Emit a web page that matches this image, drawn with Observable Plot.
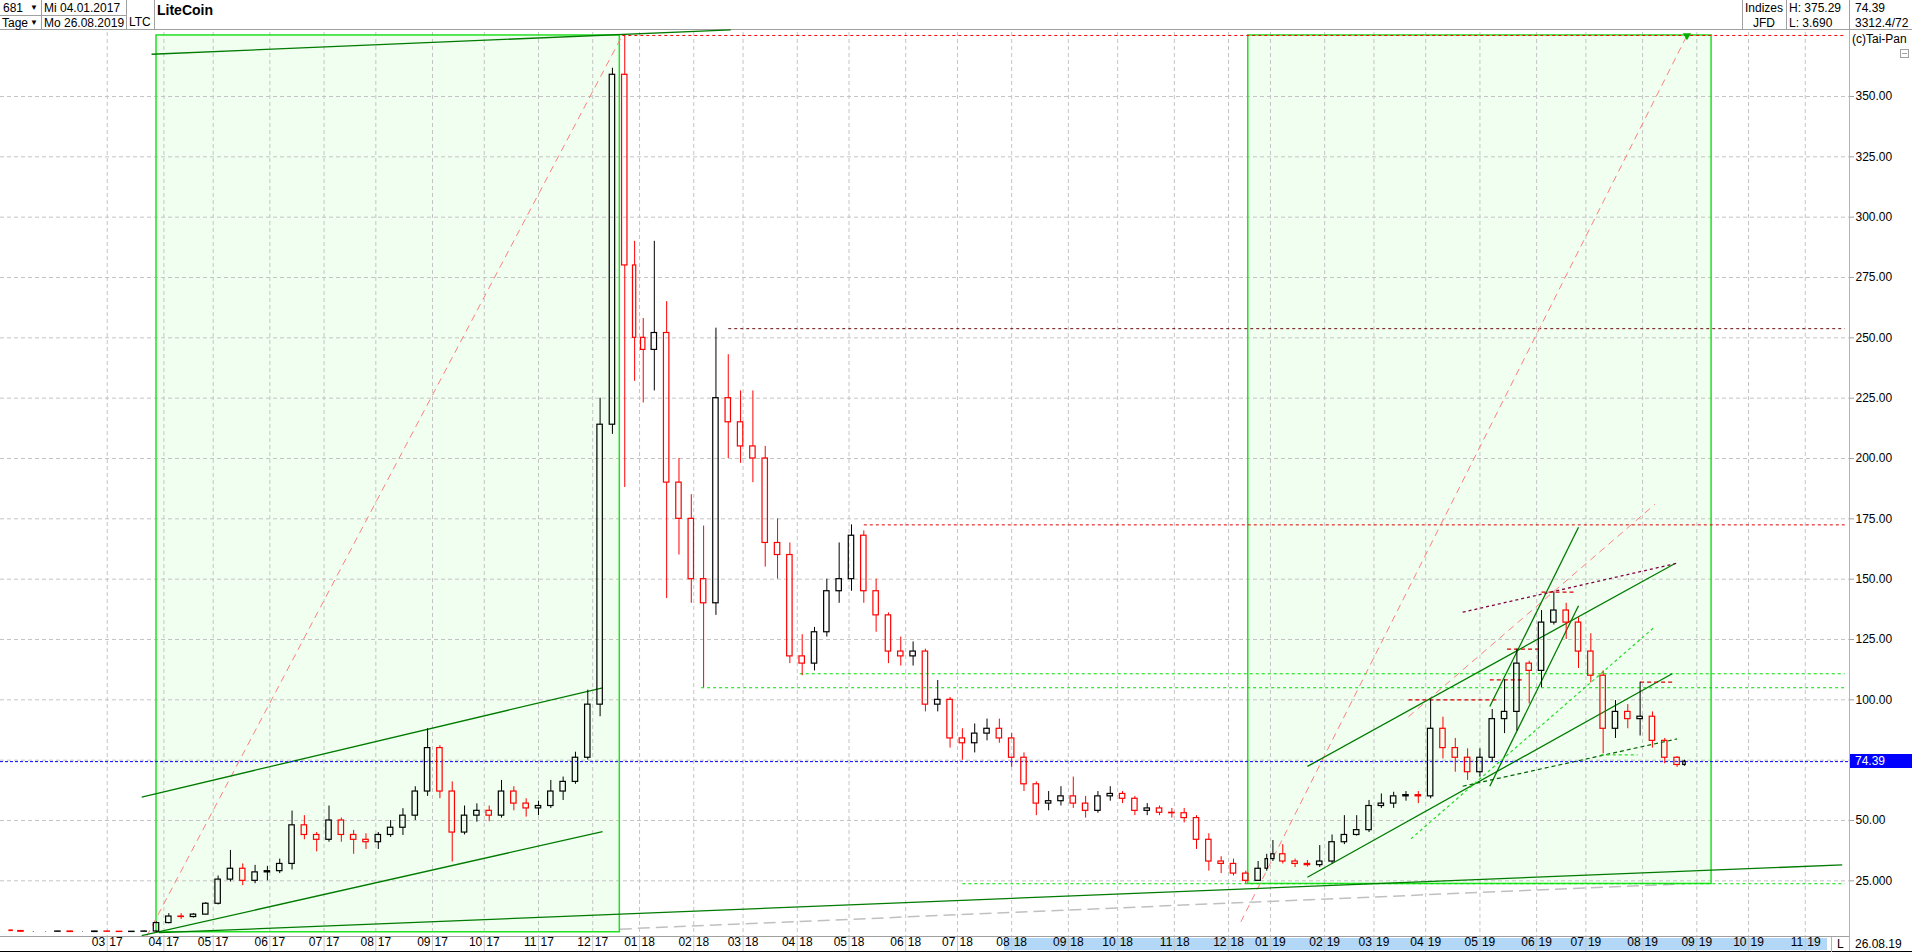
<!DOCTYPE html>
<html><head><meta charset="utf-8">
<script src="https://cdn.jsdelivr.net/npm/d3@7"></script>
<script src="https://cdn.jsdelivr.net/npm/@observablehq/plot@0.6"></script>
<style>
html,body{margin:0;padding:0;background:#fff;width:1912px;height:952px;overflow:hidden;font-family:"Liberation Sans",Arial,sans-serif;color:#000;}
#hdr{position:absolute;left:0;top:0;width:1912px;height:30px;border-bottom:1px solid #a0a0a0;box-sizing:border-box;font-size:12px;}
.t{position:absolute;white-space:nowrap;line-height:14px;}
.vl{position:absolute;width:1px;background:#a0a0a0;}
.hl{position:absolute;height:1px;background:#a0a0a0;}
#band{position:absolute;z-index:0;}
#chart{position:absolute;left:0;top:30px;z-index:1;}
.ov{position:absolute;z-index:2;white-space:nowrap;}
</style></head><body>
<div id="hdr">
  <div class="vl" style="left:41px;top:0;height:30px"></div>
  <div class="vl" style="left:126px;top:0;height:30px"></div>
  <div class="vl" style="left:154px;top:0;height:30px"></div>
  <div class="hl" style="left:0;top:15px;width:126px"></div>
  <div class="t" style="left:3px;top:1px">681</div>
  <div class="t" style="left:30px;top:1px;font-size:8px">&#9660;</div>
  <div class="t" style="left:2px;top:16px">Tage</div>
  <div class="t" style="left:30px;top:16px;font-size:8px">&#9660;</div>
  <div class="t" style="left:44px;top:1px">Mi 04.01.2017</div>
  <div class="t" style="left:44px;top:16px">Mo 26.08.2019</div>
  <div class="t" style="left:129px;top:15px">LTC</div>
  <div class="t" style="left:157px;top:3px;font-size:14px;font-weight:bold">LiteCoin</div>
  <div class="vl" style="left:1742px;top:0;height:30px"></div>
  <div class="vl" style="left:1786px;top:0;height:30px"></div>
  <div class="vl" style="left:1849px;top:0;height:30px"></div>
  <div class="t" style="left:1745px;top:1px">Indizes</div>
  <div class="t" style="left:1753px;top:16px">JFD</div>
  <div class="t" style="left:1789px;top:1px">H: 375.29</div>
  <div class="t" style="left:1789px;top:16px">L: 3.690</div>
  <div class="t" style="left:1855px;top:1px">74.39</div>
  <div class="t" style="left:1855px;top:16px">3312.4/72</div>
</div>
<div id="band"></div>
<div id="chart"></div>
<script>
// ---------- data ----------
const firstBar = "2017-01-04";
const holidays = ["2017-12-25","2017-12-26","2018-01-01","2018-12-24","2018-12-25","2018-12-26","2018-12-31","2019-01-01"];

// weekly candles: [week start, open, high, low, close]
const ohlc2017 = [
 ["2017-01-04",4.4,4.6,4.1,4.2],["2017-01-09",4.2,4.3,3.8,3.9],["2017-01-16",3.9,4.0,3.7,3.9],["2017-01-23",3.9,4.0,3.8,3.9],
 ["2017-01-30",3.9,4.1,3.8,4.0],["2017-02-06",4.0,4.1,3.7,3.8],["2017-02-13",3.8,3.9,3.7,3.8],["2017-02-20",3.8,4.1,3.7,4.0],
 ["2017-02-27",4.0,4.1,3.8,3.9],["2017-03-06",3.9,4.0,3.7,3.8],["2017-03-13",3.8,4.0,3.7,3.9],["2017-03-20",3.9,4.2,3.8,4.0],
 ["2017-03-27",4.0,8.0,3.69,7.5],["2017-04-03",7.5,11.4,7.2,10.2],["2017-04-10",10.2,11.4,9.0,10.0],["2017-04-17",10.0,11.4,9.6,11.0],
 ["2017-04-24",11.0,16.0,10.8,15.5],["2017-05-01",15.5,27.0,15.0,25.5],["2017-05-08",25.5,37.6,24.5,30.0],["2017-05-15",30.0,32.0,23.0,25.0],
 ["2017-05-22",25.0,31.4,23.8,28.5],["2017-05-29",28.5,31.0,25.0,29.0],["2017-06-05",29.0,34.0,28.0,32.0],["2017-06-12",32.0,53.9,29.5,48.0],
 ["2017-06-19",48.0,52.0,42.0,44.0],["2017-06-26",44.0,45.0,37.0,42.0],["2017-07-03",42.0,56.0,41.0,50.0],["2017-07-10",50.0,51.0,41.0,44.0],
 ["2017-07-17",44.0,45.9,36.0,42.0],["2017-07-24",42.0,44.5,38.0,41.0],["2017-07-31",41.0,45.0,38.0,44.0],["2017-08-07",44.0,50.0,43.0,47.0],
 ["2017-08-14",47.0,54.9,43.8,52.0],["2017-08-21",52.0,64.0,50.0,62.0],["2017-08-28",62.0,88.0,60.0,80.0],["2017-09-04",80.0,81.0,59.0,62.0],
 ["2017-09-11",62.0,66.0,32.8,45.0],["2017-09-18",45.0,56.0,44.0,52.0],["2017-09-25",52.0,56.9,49.3,54.0],["2017-10-02",54.0,56.0,49.5,52.0],
 ["2017-10-09",52.0,66.6,51.0,62.0],["2017-10-16",62.0,64.0,54.0,57.0],["2017-10-23",57.0,59.0,51.4,55.0],["2017-10-30",55.0,58.0,52.0,56.0],
 ["2017-11-06",56.0,66.6,55.0,62.0],["2017-11-13",62.0,68.0,58.3,66.0],["2017-11-20",66.0,78.3,65.0,76.0],["2017-11-27",76.0,104.0,75.0,98.0],
 ["2017-12-04",98.0,225.0,93.0,214.0],["2017-12-11",214.0,361.7,210.0,359.0],["2017-12-18",359.0,375.29,188.0,280.0],["2017-12-27",280.0,290.0,232.0,250.0]
];
const ohlc2018 = [
 ["2018-01-02",250,258,223,245],["2018-01-08",245,290,228,252],["2018-01-15",252,265,142,190],["2018-01-22",190,200,160,175],
 ["2018-01-29",175,185,140,150],["2018-02-05",150,172,105,140],["2018-02-12",140,254,135,225],["2018-02-19",225,243,200,215],
 ["2018-02-26",215,228,198,205],["2018-03-05",205,228,190,200],["2018-03-12",200,205,155,165],["2018-03-19",165,175,150,160],
 ["2018-03-26",160,165,115,118],["2018-04-02",118,127,110,115],["2018-04-09",115,130,112,128],["2018-04-16",128,150,126,145],
 ["2018-04-23",145,165,140,150],["2018-04-30",150,172.5,145,168],["2018-05-07",168,170,140,145],["2018-05-14",145,150,128,135],
 ["2018-05-21",135,136,115,120],["2018-05-28",120,126,114,118],["2018-06-04",118,124,114,120],["2018-06-11",120,121,95,98],
 ["2018-06-18",98,108,95,100],["2018-06-25",100,101,80,84],["2018-07-02",84,88,75,82],["2018-07-09",82,90,78,86],
 ["2018-07-16",86,92,83,88],["2018-07-23",88,92,82,84],["2018-07-30",84,86,72,76],["2018-08-06",76,78,62,65],
 ["2018-08-13",65,66,52,57],["2018-08-20",57,62,54,58],["2018-08-27",58,64,56,60],["2018-09-03",60,68,55,57],
 ["2018-09-10",57,60,51,54],["2018-09-17",54,62,53,60],["2018-09-24",60,64,58,61],["2018-10-01",61,62,57,59],
 ["2018-10-08",59,60,52,54],["2018-10-15",54,57,52,55],["2018-10-22",55,56,52,53.2],["2018-10-29",53.2,55,51,53],
 ["2018-11-05",53,55,49,51],["2018-11-12",51,52,38,42],["2018-11-19",42,44.5,29,33],["2018-11-26",33,35,28,32],
 ["2018-12-03",32,34,27,28],["2018-12-10",28,29,23.7,25],["2018-12-17",25,33,24.8,30],["2018-12-27",30,36,29,34]
];
const ohlc2019 = [
 ["2019-01-02",34,41.7,33,36],["2019-01-07",36,40,32,33],["2019-01-14",33,34,30.5,32],["2019-01-21",32,33.4,30.7,31.5],
 ["2019-01-28",31.5,39.6,30.5,33],["2019-02-04",33,44,32,41],["2019-02-11",41,52,40,44],["2019-02-18",44,52,43.5,46],
 ["2019-02-25",46,58.3,45,56],["2019-03-04",56,61,55,57],["2019-03-11",57,61.7,55,60],["2019-03-18",60,62,58,60.5],
 ["2019-03-25",60.5,62,57,60],["2019-04-01",60,100,59,88],["2019-04-08",88,92.8,75.5,80],["2019-04-15",80,84,70,76],
 ["2019-04-22",76,79.7,66.6,70],["2019-04-29",70,79.7,68,76],["2019-05-06",76,96,74,92],["2019-05-13",92,108.3,86,95],
 ["2019-05-20",95,121,87,115],["2019-05-27",115,116,98.3,112],["2019-06-03",112,137,105,132],["2019-06-10",132,144.6,131,137],
 ["2019-06-17",137,140,125,132],["2019-06-24",132,134,113,120],["2019-07-01",120,127.4,107,110],["2019-07-08",110,112,77.6,88],
 ["2019-07-15",88,99.7,84,95],["2019-07-22",95,98,88,92],["2019-07-29",92,107.3,85,93],["2019-08-05",93,95,80,83],
 ["2019-08-12",83,84,73.5,76],["2019-08-19",76,76.5,72,73],["2019-08-26",73,75,72.5,74.39]
];

const lastClose = 74.39;
const yTicks = [25,50,75,100,125,150,175,200,225,250,275,300,325,350];
const monthStarts = ["2017-03-01","2017-04-01","2017-05-01","2017-06-01","2017-07-01","2017-08-01","2017-09-01","2017-10-01","2017-11-01","2017-12-01",
 "2018-01-01","2018-02-01","2018-03-01","2018-04-01","2018-05-01","2018-06-01","2018-07-01","2018-08-01","2018-09-01","2018-10-01","2018-11-01","2018-12-01",
 "2019-01-01","2019-02-01","2019-03-01","2019-04-01","2019-05-01","2019-06-01","2019-07-01","2019-08-01","2019-09-01","2019-10-01","2019-11-01"];
const axisBand = ["2018-07-27","2019-11-14"];

// projection boxes: [start, low, end, high]
const boxes = [["2017-03-29",3.69,"2017-12-18",375.29],["2018-12-13",23.7,"2019-09-10",375.29]];
// solid dark green trend lines: [date1, value1, date2, value2]
const greenLines = [
 ["2017-03-21",59.7,"2017-12-07",105.0],
 ["2017-03-21",2.3,"2017-12-07",45.4],
 ["2017-03-27",367.5,"2018-02-22",377.6],
 ["2017-03-30",3.5,"2019-11-22",31.6],
 ["2019-01-23",72.4,"2019-08-20",156.4],
 ["2019-01-23",26.5,"2019-08-19",110.8],
 ["2019-05-07",97.2,"2019-06-26",171.5],
 ["2019-05-07",64.2,"2019-06-26",139.0]
];
const greenDashedLines = [["2019-04-22",64.2,"2019-08-21",83.8]];
const pinkLines = [["2017-03-23",2.0,"2017-12-19",375.29],["2018-12-10",8.0,"2019-08-27",375.29],["2019-03-21",93.0,"2019-08-08",181.0]];
const lightGreenLines = [["2019-03-22",42.4,"2019-08-08",130.3],["2019-07-09",77.2,"2019-07-30",77.2]];
const maroonLines = [["2019-04-22",136.3,"2019-08-21",156.6]];
const redShortLines = [
 ["2019-03-21",100.0,"2019-05-10",100.0],["2019-05-07",108.3,"2019-05-24",108.3],["2019-05-16",121.0,"2019-06-05",121.0],
 ["2019-06-05",144.6,"2019-06-25",144.6],["2019-07-31",107.3,"2019-08-20",107.3]
];
const greyLines = [["2017-12-18",4.98,"2019-08-26",23.8]];
// horizontal levels extended to the right: [start, value, colour]
const levelEnd = "2019-11-25";
const levels = [["2017-12-19",375.29,"#ff0000"],["2018-02-21",253.8,"#6a1010"],["2018-05-09",172.5,"#e00000"],
 ["2018-04-03",110.8,"#00dd00"],["2018-02-06",105.0,"#00dd00"],["2018-07-04",23.8,"#00dd00"]];
const markers = [["2019-08-27",375.29]];

// ---------- trading-day index (weekdays without holidays) ----------
const hol = new Set(holidays);
const dayIndex = new Map();
(function(){
  let c = 0;
  for (let t = Date.UTC(2016,11,1); t <= Date.UTC(2019,11,31); t += 864e5) {
    const d = new Date(t), s = d.toISOString().slice(0,10), wd = d.getUTCDay();
    dayIndex.set(s, c);
    if (wd !== 0 && wd !== 6 && !hol.has(s)) c++;
  }
})();
const base = dayIndex.get(firstBar);
const tIdx = s => dayIndex.get(s) - base;

const rows = [...ohlc2017, ...ohlc2018, ...ohlc2019];
const candles = rows.map((r, i) => {
  const s = tIdx(r[0]);
  const n = i + 1 < rows.length ? tIdx(rows[i+1][0]) : s + 1;
  const nb = n - s;
  return {xc: (s + n - 1) / 2, hw: Math.max(0.5, 0.22 * nb), o: r[1], h: r[2], l: r[3], c: r[4],
          top: Math.max(r[1], r[4]), bot: Math.min(r[1], r[4]),
          col: r[4] >= r[1] ? "#000000" : "#ff0000"};
});
const seg = (arr, opts) => Plot.link(arr, {x1: d => tIdx(d[0]), y1: d => d[1], x2: d => tIdx(d[2]), y2: d => d[3], ...opts});
const monthIdx = monthStarts.map(tIdx);
const mm = s => s.slice(5,7), yy = s => s.slice(2,4);

const chart = Plot.plot({
  width: 1912, height: 922,
  marginTop: 2, marginRight: 63, marginBottom: 16, marginLeft: 0,
  x: {type: "linear", domain: [-3.3, 746.96], axis: "bottom", ticks: monthIdx, tickSize: 15, tickFormat: () => "", label: null},
  y: {type: "linear", domain: [1.93, 376.52], axis: "right", ticks: yTicks, tickSize: 4, tickPadding: 2,
      tickFormat: v => v === 25 ? "25.000" : v.toFixed(2), label: null},
  color: {type: "identity"},
  style: {fontFamily: '"Liberation Sans", Arial, sans-serif', fontSize: "12px", color: "#000", background: "transparent", overflow: "visible"},
  marks: [
    Plot.rect(boxes, {x1: d => tIdx(d[0]), x2: d => tIdx(d[2]), y1: d => d[1], y2: d => d[3], fill: "#f0fff0"}),
    Plot.ruleY(yTicks, {stroke: "#c4c4c4", strokeDasharray: "4,3"}),
    Plot.ruleX(monthIdx, {stroke: "#c4c4c4", strokeDasharray: "4,3"}),
    Plot.ruleY([1.93], {stroke: "#a0a0a0"}),
    seg(greyLines, {stroke: "#c0c0c0", strokeDasharray: "12,6", strokeWidth: 1.5}),
    Plot.rect(boxes, {x1: d => tIdx(d[0]), x2: d => tIdx(d[2]), y1: d => d[1], y2: d => d[3], fill: "none", stroke: "#22e022", strokeWidth: 1.5}),
    Plot.link(levels, {x1: d => tIdx(d[0]), x2: () => tIdx(levelEnd), y1: d => d[1], y2: d => d[1], stroke: d => d[2], strokeDasharray: "3,3"}),
    seg(pinkLines, {stroke: "#ff7f7f", strokeDasharray: "7,5"}),
    seg(greenLines, {stroke: "#007a00", strokeWidth: 1.3}),
    seg(greenDashedLines, {stroke: "#006400", strokeDasharray: "4,3", strokeWidth: 1.2}),
    seg(lightGreenLines, {stroke: "#22dd22", strokeDasharray: "3,3", strokeWidth: 1.2}),
    seg(maroonLines, {stroke: "#800040", strokeDasharray: "3,3", strokeWidth: 1.3}),
    seg(redShortLines, {stroke: "#dd0000", strokeDasharray: "4,3", strokeWidth: 1.2}),
    Plot.ruleY([lastClose], {stroke: "#0000ff", strokeDasharray: "3,2"}),
    Plot.ruleX(candles, {x: "xc", y1: "h", y2: "top", stroke: "col"}),
    Plot.ruleX(candles, {x: "xc", y1: "bot", y2: "l", stroke: "col"}),
    Plot.rect(candles, {x1: d => d.xc - d.hw, x2: d => d.xc + d.hw, y1: "bot", y2: "top", fill: "none", stroke: "col", strokeWidth: 1.2}),
    Plot.dot(markers, {x: d => tIdx(d[0]), y: d => d[1], symbol: "triangle", rotate: 180, r: 3, fill: "#00b000", stroke: "none"}),
    Plot.text(monthStarts, {x: tIdx, text: mm, frameAnchor: "bottom", dy: 9, dx: -2, textAnchor: "end", fontSize: 12}),
    Plot.text(monthStarts, {x: tIdx, text: yy, frameAnchor: "bottom", dy: 9, dx: 2, textAnchor: "start", fontSize: 12})
  ]
});

document.getElementById("chart").appendChild(chart);
d3.select(chart).selectAll('g[aria-label="y-axis tick"]').attr("stroke", "#a0a0a0");
d3.select(chart).selectAll('g[aria-label="x-axis tick"]').attr("stroke", "#c8c8c8");
const xs = chart.scale("x"), ys = chart.scale("y");

// blue range band in the date axis (behind the chart svg)
const bx1 = xs.apply(tIdx(axisBand[0])), bx2 = xs.apply(tIdx(axisBand[1]));
document.getElementById("band").style.cssText = `position:absolute;z-index:0;left:${bx1}px;top:938px;width:${bx2-bx1}px;height:12px;background:#b3d7f7;`;

const add = (css, html) => { const e = document.createElement("div"); e.className = "ov"; e.style.cssText += css; if (html) e.innerHTML = html; document.body.appendChild(e); return e; };
add("left:1849px;top:30px;width:1px;height:922px;background:#b4b4b4;");
add("left:0;top:951px;width:1912px;height:1px;background:#000;");
add("left:1831px;top:937px;width:1px;height:15px;background:#b4b4b4;");
const yb = ys.apply(lastClose) + 30;
add(`left:1850px;top:${yb-7}px;width:62px;height:14px;background:#0000ff;color:#fff;font-size:12px;line-height:14px;padding-left:5px;box-sizing:border-box;`, lastClose.toFixed(2));
add("left:1852px;top:32px;font-size:12px;line-height:14px;", "(c)Tai-Pan");
add("left:1900px;top:49px;width:7px;height:7px;border:1px solid #a0a0a0;");
add("left:1902px;top:53px;width:5px;height:1px;background:#a0a0a0;");
add("left:1837px;top:937px;font-size:12px;line-height:14px;", "L");
add("left:1855px;top:937px;font-size:12px;line-height:14px;", "26.08.19");
</script>
</body></html>
